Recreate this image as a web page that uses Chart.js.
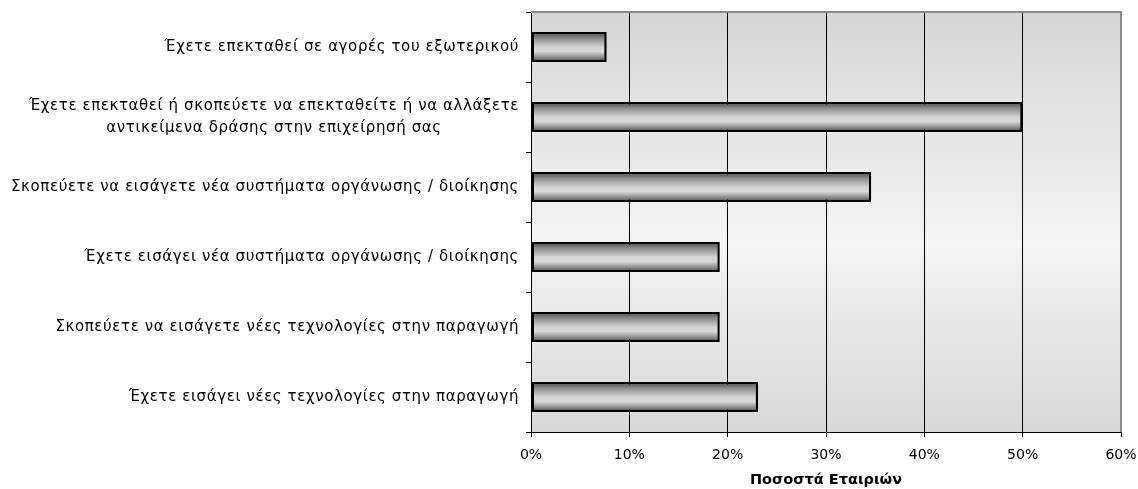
<!DOCTYPE html>
<html>
<head>
<meta charset="utf-8">
<script src="https://cdn.jsdelivr.net/npm/chart.js@4"></script>
<style>
  html, body { margin: 0; padding: 0; background: #fff; }
  #wrap { width: 1138px; height: 489px; }
</style>
</head>
<body>
<div id="wrap"><canvas id="chart" width="1138" height="489"></canvas></div>
<script>
// categories, top to bottom
const categories = [
  ["Έχετε επεκταθεί σε αγορές του εξωτερικού"],
  ["Έχετε επεκταθεί ή σκοπεύετε να επεκταθείτε ή να αλλάξετε", "αντικείμενα δράσης στην επιχείρησή σας"],
  ["Σκοπεύετε να εισάγετε νέα συστήματα οργάνωσης / διοίκησης"],
  ["Έχετε εισάγει νέα συστήματα οργάνωσης / διοίκησης"],
  ["Σκοπεύετε να εισάγετε νέες τεχνολογίες στην παραγωγή"],
  ["Έχετε εισάγει νέες τεχνολογίες στην παραγωγή"]
];
// percent of companies
const shares = [7.7, 50.0, 34.6, 19.2, 19.2, 23.1];
const xTicks = [0, 10, 20, 30, 40, 50, 60];
const xTitle = "Ποσοστά Εταιριών";

const labelFont = "15px 'DejaVu Sans'";
const barShare = 0.43;

// shading of one bar, from the y scale
function barGradient(c) {
  const chart = c.chart;
  const y = chart.scales.y;
  if (!y || !chart.chartArea) return '#bbb';
  const cy = y.getPixelForValue(c.dataIndex);
  const h = (y.bottom - y.top) / categories.length * barShare;
  const g = chart.ctx.createLinearGradient(0, cy - h / 2, 0, cy + h / 2);
  g.addColorStop(0, '#404040');
  g.addColorStop(0.2, '#8a8a8a');
  g.addColorStop(0.5, '#d4d4d4');
  g.addColorStop(0.65, '#dadada');
  g.addColorStop(0.85, '#8a8a8a');
  g.addColorStop(1, '#404040');
  return g;
}

const framePlugin = {
  id: 'frame',
  beforeDraw(chart) {
    const { ctx, chartArea: a } = chart;
    const g = ctx.createLinearGradient(0, a.top, 0, a.bottom);
    g.addColorStop(0, '#d6d6d6');
    g.addColorStop(0.55, '#f4f4f4');
    g.addColorStop(1, '#d8d8d8');
    ctx.save();
    ctx.fillStyle = g;
    ctx.fillRect(a.left, a.top, a.right - a.left, a.bottom - a.top);
    ctx.restore();
  },
  afterDraw(chart) {
    const { ctx, chartArea: a } = chart;
    ctx.save();
    // grey top and right frame
    ctx.strokeStyle = '#8a8a8a';
    ctx.lineWidth = 2;
    ctx.beginPath();
    ctx.moveTo(a.left, a.top);
    ctx.lineTo(a.right, a.top);
    ctx.lineTo(a.right, a.bottom);
    ctx.stroke();
    // category labels: single lines right aligned, wrapped lines centred on the widest one
    const y = chart.scales.y;
    ctx.font = labelFont;
    ctx.letterSpacing = '0.6px';
    ctx.fillStyle = '#000';
    ctx.textBaseline = 'middle';
    ctx.textAlign = 'center';
    const xr = a.left - 12;
    categories.forEach((lines, i) => {
      const cy = y.getPixelForValue(i);
      const w = Math.max(...lines.map(s => ctx.measureText(s).width));
      const lh = 22;
      lines.forEach((s, k) => {
        ctx.fillText(s, xr - w / 2, cy + (k - (lines.length - 1) / 2) * lh);
      });
    });
    ctx.restore();
  }
};

new Chart(document.getElementById('chart'), {
  type: 'bar',
  data: {
    labels: categories,
    datasets: [{
      data: shares,
      backgroundColor: barGradient,
      borderColor: '#000',
      borderWidth: 2.5,
      borderSkipped: false,
      barPercentage: barShare,
      categoryPercentage: 1.0
    }]
  },
  options: {
    indexAxis: 'y',
    responsive: false,
    animation: false,
    layout: { padding: { top: 12, right: 17, left: 0, bottom: 0 } },
    plugins: { legend: { display: false }, tooltip: { enabled: false } },
    scales: {
      x: {
        min: 0, max: 60,
        afterBuildTicks: s => { s.ticks = xTicks.map(v => ({ value: v })); },
        afterFit: s => { s.height = 57; s.paddingLeft = 0; s.paddingRight = 0; },
        ticks: {
          callback: v => v + '%',
          color: '#000',
          font: { family: 'DejaVu Sans', size: 14 },
          padding: 10,
          maxRotation: 0
        },
        grid: { color: '#000', lineWidth: 1, tickLength: 5, tickColor: '#000' },
        border: { color: '#000', width: 1 },
        title: {
          display: true,
          text: xTitle,
          color: '#000',
          font: { family: 'DejaVu Sans', size: 14.5, weight: 'bold' },
          padding: { top: 6, bottom: 0 }
        }
      },
      y: {
        afterFit: s => { s.width = 531; s.paddingTop = 0; s.paddingBottom = 0; },
        ticks: { color: 'rgba(0,0,0,0)', font: { family: 'DejaVu Sans', size: 14 } },
        grid: { drawOnChartArea: false, offset: true, tickLength: 5, tickColor: '#000' },
        border: { color: '#000', width: 1 }
      }
    }
  },
  plugins: [framePlugin]
});
</script>
</body>
</html>
